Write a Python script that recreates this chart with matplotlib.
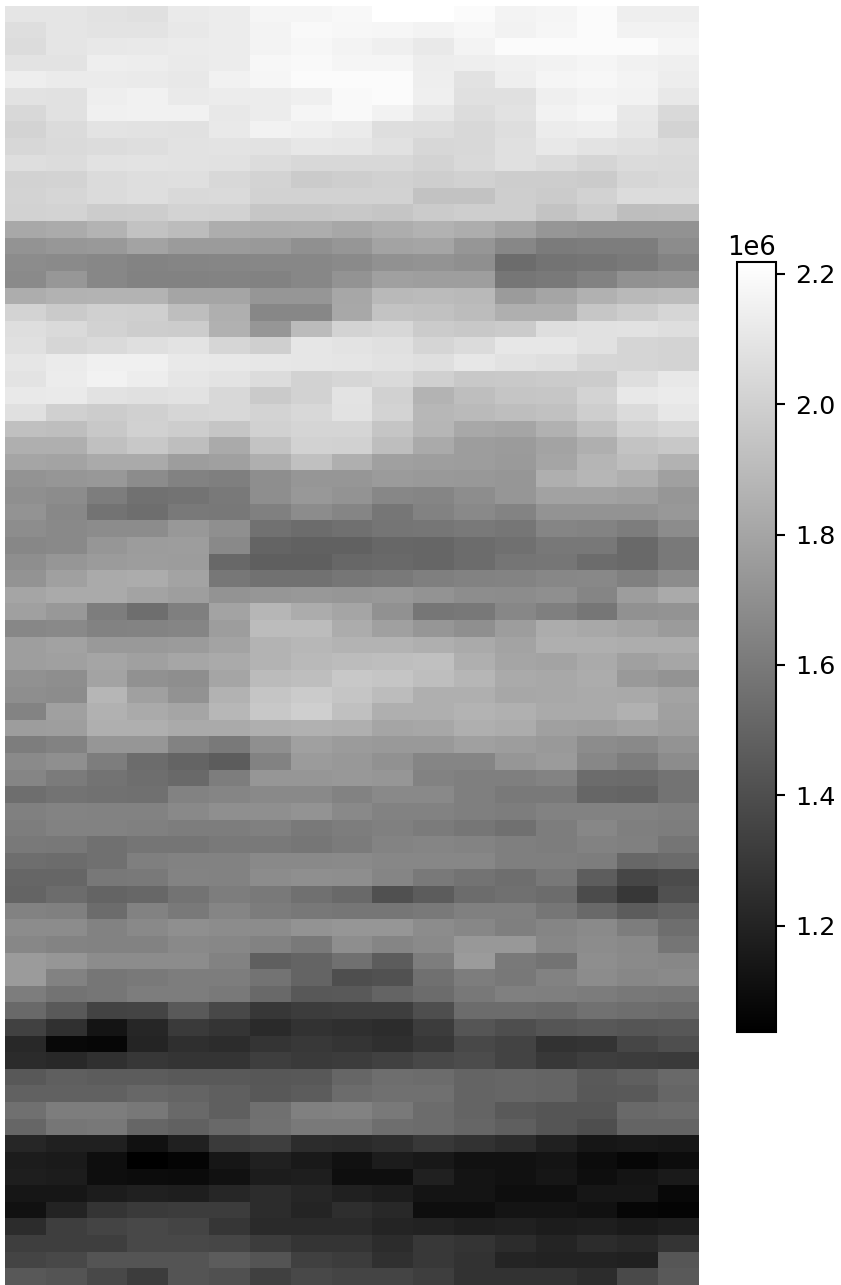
import numpy as np
import matplotlib
matplotlib.use('Agg')
import matplotlib.pyplot as plt

# values, in thousands, one inner list per row
rows_top = [
    [2097,2097,2083,2074,2120,2130,2171,2171,2185,2218,2218,2195,2162,2171,2195,2139,2139],
    [2065,2097,2088,2088,2111,2130,2162,2190,2181,2176,2167,2181,2157,2176,2195,2157,2157],
    [2056,2097,2111,2116,2125,2130,2162,2181,2167,2144,2116,2162,2195,2195,2195,2195,2171],
    [2088,2088,2139,2134,2120,2130,2181,2190,2171,2171,2134,2139,2148,2157,2171,2153,2144],
    [2139,2125,2125,2120,2111,2153,2176,2195,2199,2195,2139,2083,2139,2171,2181,2167,2134],
    [2083,2079,2139,2153,2120,2130,2130,2144,2190,2199,2144,2074,2074,2144,2162,2157,2111],
    [2037,2079,2148,2153,2153,2111,2130,2171,2190,2157,2106,2056,2083,2157,2176,2111,2042],
    [2019,2051,2088,2083,2079,2116,2157,2144,2125,2065,2060,2037,2065,2130,2139,2102,2014],
    [2033,2046,2056,2065,2083,2093,2083,2106,2102,2079,2033,2037,2074,2111,2093,2074,2056],
    [2065,2056,2083,2093,2083,2079,2056,2037,2037,2037,2019,2042,2074,2051,2023,2051,2046],
    [2009,2014,2051,2065,2070,2037,2014,1977,1991,2005,1991,2005,1986,1986,1977,2028,2042],
    [2014,2028,2051,2065,2042,2046,2009,2009,2009,2009,1935,1935,1991,1977,2009,2056,2056],
    [2009,2014,1981,1986,2019,2009,1954,1954,1963,1949,1977,1991,1991,1945,1981,1917,1921],
    [1815,1829,1871,1935,1907,1838,1833,1838,1810,1838,1861,1838,1792,1732,1713,1713,1713],
    [1722,1736,1745,1792,1755,1755,1745,1704,1732,1792,1801,1732,1662,1606,1616,1616,1685],
    [1685,1676,1662,1648,1653,1657,1662,1662,1676,1708,1722,1699,1537,1569,1579,1602,1648],
    [1676,1736,1662,1639,1639,1648,1639,1662,1722,1778,1769,1769,1583,1602,1639,1708,1718],
    [1838,1861,1871,1871,1801,1801,1732,1732,1810,1894,1903,1894,1755,1801,1856,1894,1907],
    [2019,1972,2000,1995,1917,1847,1662,1662,1815,1940,1931,1907,1847,1847,1954,1986,2028],
]
rows_upper = [
    [2065,2046,2009,1986,1981,1856,1732,1903,2019,2033,1977,1963,1977,2065,2079,2083,2065],
    [2074,2028,2046,2070,2088,2028,1995,2102,2093,2074,2023,2051,2106,2106,2079,2023,2014],
    [2102,2125,2148,2148,2116,2111,2106,2102,2097,2083,2070,2106,2083,2070,2028,2023,2019],
    [2088,2130,2157,2134,2102,2093,2056,2009,2028,2046,2000,1963,1968,1977,1981,2065,2111],
    [2116,2120,2083,2074,2083,2037,1972,2009,2093,2005,1871,1917,1949,1954,2019,2111,2125],
    [2074,2000,1981,2000,2028,2037,2019,2037,2083,2019,1884,1898,1917,1931,1991,2051,2106],
    [1926,1917,1963,2005,1986,1949,2005,2023,2023,1949,1880,1815,1801,1856,1926,2005,2033],
    [1847,1847,1926,1963,1917,1824,1945,2009,2005,1917,1824,1764,1755,1792,1847,1940,1963],
    [1801,1792,1824,1824,1764,1778,1847,1926,1847,1778,1769,1764,1750,1801,1875,1917,1861],
    [1722,1732,1741,1685,1639,1625,1694,1732,1732,1755,1745,1741,1732,1847,1880,1847,1778],
    [1699,1685,1616,1560,1569,1602,1694,1741,1718,1662,1653,1690,1732,1787,1787,1773,1732],
    [1722,1667,1569,1546,1602,1593,1630,1685,1653,1583,1639,1671,1648,1722,1718,1718,1741],
    [1690,1671,1685,1685,1741,1699,1560,1537,1556,1579,1583,1602,1583,1653,1648,1616,1685],
    [1662,1671,1732,1759,1764,1671,1500,1491,1491,1514,1509,1537,1556,1593,1593,1523,1602],
    [1694,1732,1755,1764,1759,1519,1477,1477,1514,1523,1509,1537,1579,1583,1537,1523,1602],
    [1722,1778,1824,1833,1792,1588,1560,1560,1583,1602,1625,1639,1648,1662,1667,1630,1685],
    [1801,1824,1824,1792,1769,1722,1732,1741,1732,1741,1722,1690,1685,1699,1653,1764,1824],
]
rows_middle = [
    [1778,1741,1616,1546,1625,1792,1880,1833,1801,1708,1583,1593,1662,1625,1583,1708,1722],
    [1662,1671,1639,1648,1653,1764,1907,1907,1833,1778,1732,1699,1764,1833,1815,1792,1755],
    [1769,1787,1745,1745,1755,1796,1871,1884,1871,1871,1847,1824,1792,1847,1847,1838,1838],
    [1769,1778,1801,1778,1806,1824,1866,1894,1907,1917,1926,1847,1801,1792,1824,1778,1806],
    [1708,1694,1792,1708,1694,1801,1903,1917,1963,1949,1917,1880,1824,1815,1833,1745,1722],
    [1694,1685,1880,1778,1713,1861,1949,1977,1949,1907,1847,1847,1810,1815,1824,1819,1792],
    [1648,1778,1856,1824,1801,1884,1963,1995,1926,1847,1847,1871,1852,1824,1824,1856,1778],
    [1764,1769,1847,1847,1824,1824,1847,1856,1847,1801,1810,1847,1833,1778,1769,1792,1769],
    [1616,1639,1732,1732,1639,1602,1699,1778,1755,1745,1745,1778,1764,1745,1685,1671,1722],
    [1676,1699,1616,1537,1500,1463,1639,1755,1741,1708,1653,1653,1732,1755,1662,1616,1685],
    [1653,1606,1569,1546,1523,1616,1732,1732,1741,1732,1639,1625,1625,1648,1537,1532,1569],
    [1546,1569,1560,1556,1639,1653,1671,1671,1639,1671,1671,1625,1602,1602,1509,1500,1569],
    [1630,1648,1639,1639,1671,1699,1699,1718,1671,1639,1639,1625,1616,1639,1639,1639,1625],
    [1616,1639,1639,1630,1616,1616,1630,1602,1616,1630,1606,1583,1556,1616,1662,1625,1616],
    [1602,1593,1556,1579,1579,1602,1602,1583,1606,1648,1653,1648,1625,1616,1639,1630,1579],
    [1546,1537,1556,1625,1639,1639,1671,1671,1676,1662,1662,1662,1625,1625,1616,1514,1532],
]
rows_lower = [
    [1509,1509,1593,1602,1648,1639,1685,1699,1694,1653,1602,1569,1546,1593,1468,1361,1384],
    [1500,1537,1500,1514,1569,1616,1602,1556,1523,1407,1463,1537,1556,1537,1384,1292,1407],
    [1639,1630,1537,1639,1602,1653,1611,1593,1583,1583,1602,1630,1630,1583,1523,1463,1500],
    [1685,1685,1639,1671,1699,1685,1685,1722,1732,1732,1685,1662,1625,1653,1676,1616,1546],
    [1662,1648,1639,1639,1671,1662,1639,1602,1694,1653,1676,1741,1741,1662,1685,1671,1579],
    [1755,1732,1685,1685,1685,1639,1477,1500,1556,1463,1616,1755,1602,1569,1694,1676,1662],
    [1755,1639,1583,1602,1616,1616,1569,1500,1398,1417,1556,1616,1593,1639,1685,1662,1676],
    [1616,1569,1583,1616,1616,1602,1523,1444,1454,1500,1537,1593,1630,1625,1611,1593,1583],
    [1523,1454,1347,1352,1454,1370,1292,1315,1324,1324,1398,1537,1537,1523,1560,1546,1532],
    [1338,1259,1130,1213,1306,1278,1231,1269,1255,1245,1315,1431,1398,1431,1444,1431,1440],
    [1222,1074,1065,1204,1255,1241,1278,1296,1278,1255,1292,1370,1347,1269,1278,1361,1398],
    [1236,1222,1259,1292,1278,1278,1324,1306,1315,1338,1370,1389,1347,1296,1324,1315,1306],
    [1444,1477,1463,1463,1454,1454,1440,1444,1509,1546,1537,1500,1509,1500,1454,1477,1523],
    [1486,1491,1491,1514,1500,1477,1444,1463,1537,1556,1556,1500,1509,1500,1444,1454,1509],
    [1556,1616,1616,1593,1523,1477,1556,1630,1639,1602,1537,1500,1454,1431,1431,1523,1537],
    [1509,1583,1593,1509,1486,1523,1560,1602,1602,1546,1537,1509,1477,1431,1398,1500,1500],
]
rows_bottom = [
    [1213,1185,1185,1120,1185,1306,1324,1245,1231,1250,1296,1269,1241,1185,1139,1148,1139],
    [1167,1157,1106,1037,1056,1139,1185,1153,1120,1167,1148,1120,1116,1130,1093,1065,1093],
    [1176,1167,1102,1093,1088,1120,1167,1176,1102,1102,1185,1130,1120,1139,1102,1130,1157],
    [1139,1139,1167,1185,1176,1213,1241,1213,1185,1167,1130,1130,1102,1102,1139,1139,1074],
    [1116,1199,1278,1306,1315,1315,1241,1204,1250,1222,1102,1102,1130,1130,1120,1065,1056],
    [1245,1324,1352,1370,1352,1287,1231,1231,1231,1204,1194,1176,1185,1167,1176,1157,1176],
    [1324,1324,1324,1370,1370,1361,1315,1278,1278,1241,1296,1278,1241,1204,1241,1222,1278],
    [1352,1370,1426,1426,1426,1463,1426,1333,1315,1259,1296,1269,1204,1194,1194,1185,1435],
    [1444,1426,1370,1315,1426,1407,1333,1370,1352,1352,1324,1269,1269,1269,1241,1380,1454],
]

z = np.array(rows_top + rows_upper + rows_middle + rows_lower + rows_bottom) * 1000.

W, H = 841., 1285.
fig = plt.figure(figsize=(W/100, H/100), dpi=100)

ax = fig.add_axes([5./W, 0., 694./W, 1. - 5.5/H])
im = ax.imshow(z, cmap='gray', aspect='auto', vmin=1037e3, vmax=2218e3)
ax.axis('off')

cax = fig.add_axes([737./W, 1. - 1032./H, 39./W, 770./H])
cb = fig.colorbar(im, cax=cax)
cb.ax.tick_params(labelsize=18.3, length=6.5, width=1.5, pad=7.5)
cb.ax.yaxis.OFFSETTEXTPAD = 5
cb.ax.yaxis.get_offset_text().set_fontsize(18.6)
cb.outline.set_linewidth(1.5)

plt.savefig('out.png', dpi=100)
